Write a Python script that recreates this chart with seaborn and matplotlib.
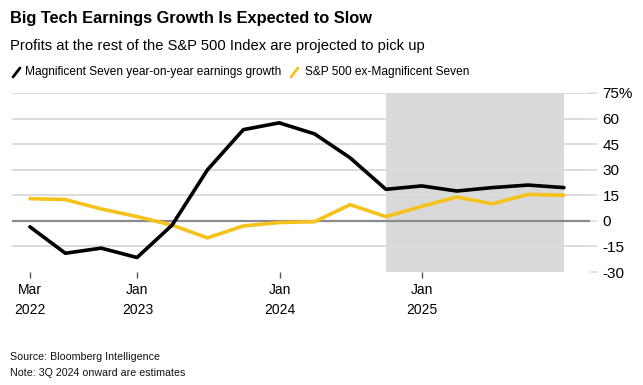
import pandas as pd
import numpy as np
import matplotlib
matplotlib.use("Agg")
import matplotlib.pyplot as plt
import seaborn as sns
from matplotlib.lines import Line2D

# ─── Data ─────────────────────────────────────────────────────────────────────
quarters = ["2022-03-31", "2022-06-30", "2022-09-30", "2022-12-31",
            "2023-03-31", "2023-06-30", "2023-09-30", "2023-12-31",
            "2024-03-31", "2024-06-30", "2024-09-30", "2024-12-31",
            "2025-03-31", "2025-06-30", "2025-09-30", "2025-12-31"]
mag7 = [-3.5, -19, -16, -21.5, -2.5, 30, 53.5, 57.5,
        51, 37, 18.5, 20.5, 17.5, 19.5, 21, 19.5]
ex_mag7 = [13, 12.5, 7, 2.5, -2.5, -10, -3, -1,
           -0.5, 9.5, 2.5, 8.5, 14, 10, 15.5, 15]
estimate_start = "2024-09-30"
estimate_end = "2025-12-31"
y_ticks = [-30, -15, 0, 15, 30, 45, 60, 75]
y_labels = ["-30", "-15", "0", "15", "30", "45", "60", "75%"]
x_ticks = ["2022-03-31", "2023-01-01", "2024-01-01", "2025-01-01"]
x_labels = ["Mar\n2022", "Jan\n2023", "Jan\n2024", "Jan\n2025"]

df = pd.DataFrame({"date": pd.to_datetime(quarters), "mag7": mag7, "ex": ex_mag7})

BLACK = "#000000"
YELLOW = "#f5c21b"
GRID = "#dcdcdc"

sns.set_theme(style="white")
plt.rcParams["font.family"] = ["Liberation Sans", "DejaVu Sans"]
plt.rcParams["text.color"] = "black"

W, H = 643, 385
fig = plt.figure(figsize=(W / 100, H / 100), dpi=100)
ax = fig.add_axes([12 / W, 1 - 272 / H, (590 - 12) / W, (272 - 93) / H])

# estimate shading
ax.axvspan(pd.Timestamp(estimate_start), pd.Timestamp(estimate_end),
           color="#d9d9d9", zorder=0, lw=0)

ax.axhline(0, color="#8a8a8a", lw=1.6, zorder=1)

sns.lineplot(data=df, x="date", y="ex", color=YELLOW, lw=2.6, ax=ax, zorder=3)
sns.lineplot(data=df, x="date", y="mag7", color=BLACK, lw=2.6, ax=ax, zorder=4)

ax.set_xlim(pd.Timestamp("2022-02-13"), pd.Timestamp("2026-03-08"))
ax.set_ylim(-30, 75)

ax.yaxis.tick_right()
ax.set_yticks(y_ticks)
ax.set_yticklabels(y_labels, fontsize=11, color="black", ha="left")
ax.tick_params(axis="y", length=5, width=1.2, color=GRID, pad=4, right=True, left=False)
ax.grid(axis="y", color=GRID, lw=1.4, zorder=0.5)
ax.yaxis.get_gridlines()[0].set_visible(False)

ax.set_xticks(pd.to_datetime(x_ticks))
ax.set_xticklabels(x_labels, fontsize=10, color="black", linespacing=1.55)
ax.tick_params(axis="x", length=4, width=1, color="#555555", pad=4, bottom=True)
ax.set_xlabel("")
ax.set_ylabel("")
for s in ax.spines.values():
    s.set_visible(False)

# ─── Titles, legend, footer ──────────────────────────────────────────────────
fig.text(10 / W, 1 - 18 / H, "Big Tech Earnings Growth Is Expected to Slow",
         fontsize=11.8, fontweight="bold", va="center", ha="left", color="black")
fig.text(10 / W, 1 - 46 / H, "Profits at the rest of the S&P 500 Index are projected to pick up",
         fontsize=10.6, va="center", ha="left", color="black")

fig.add_artist(Line2D([13 / W, 20 / W], [1 - 77 / H, 1 - 68 / H], color=BLACK, lw=2))
fig.text(25 / W, 1 - 72 / H, "Magnificent Seven year-on-year earnings growth",
         fontsize=8.6, va="center", ha="left", color="black")
fig.add_artist(Line2D([291 / W, 298 / W], [1 - 77 / H, 1 - 68 / H], color=YELLOW, lw=2))
fig.text(305 / W, 1 - 72 / H, "S&P 500 ex-Magnificent Seven",
         fontsize=8.6, va="center", ha="left", color="black")

fig.text(10 / W, 1 - 357 / H, "Source: Bloomberg Intelligence",
         fontsize=7.7, va="center", ha="left", color="#111111")
fig.text(10 / W, 1 - 373 / H, "Note: 3Q 2024 onward are estimates",
         fontsize=7.7, va="center", ha="left", color="#111111")

fig.savefig("out.png", dpi=100)
